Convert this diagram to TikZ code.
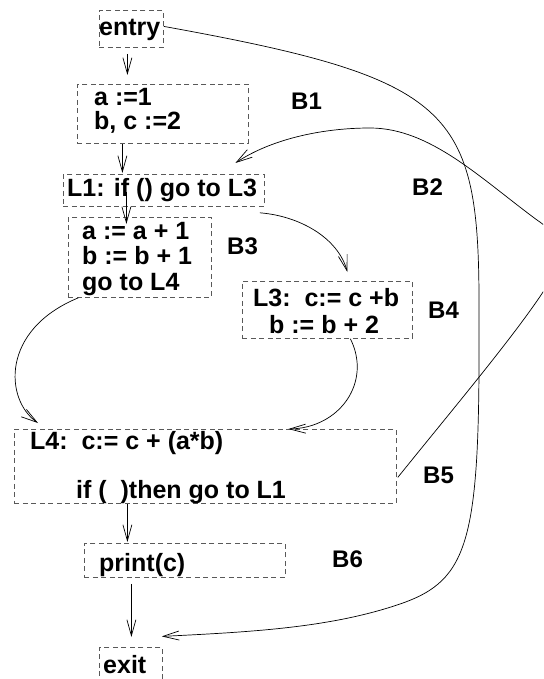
\documentclass[tikz,border=0pt]{standalone}
\usepackage{fontspec}
\setmainfont{Liberation Sans}
\usetikzlibrary{arrows.meta}
\tikzset{
  box/.style={draw=black!65, dash pattern=on 5pt off 3.5pt, line width=0.8pt, inner sep=0pt, anchor=north west},
  txt/.style={anchor=base west, inner sep=0pt, font=\fontsize{25}{25}\selectfont\bfseries},
  blab/.style={anchor=base west, inner sep=0pt, font=\fontsize{24}{24}\selectfont\bfseries},
  arr/.style={line width=0.7pt, -{Straight Barb[length=16pt,width=9pt]}}
}
\begin{document}
\begin{tikzpicture}[x=1pt,y=-1pt]
\useasboundingbox (0,0) rectangle (543,679);
\clip (0,0) rectangle (543,679);
% boxes
\node[box, minimum width=64pt, minimum height=37pt] (entry) at (99,10) {};
\node[box, minimum width=171pt, minimum height=59pt] (B1) at (77,84) {};
\node[box, minimum width=201pt, minimum height=32pt] (L1) at (63,174) {};
\node[box, minimum width=143pt, minimum height=80pt] (B3) at (68,217) {};
\node[box, minimum width=170pt, minimum height=57pt] (B4) at (242,281) {};
\node[box, minimum width=382pt, minimum height=74pt] (B5) at (14,429) {};
\node[box, minimum width=201pt, minimum height=34pt] (print) at (84,543) {};
\node[box, minimum width=63pt, minimum height=37pt] (exit) at (99,647) {};
% texts
\node[txt] (tentry) at (99,36) {entry};
\node[txt] (tb1a) at (94,106) {a :=1};
\node[txt] (tb1b) at (94,130) {b, c :=2};
\node[txt] (tl1) at (67,196) {L1: if () go to L3};
\node[txt] (tb3a) at (82,239) {a := a + 1};
\node[txt] (tb3b) at (82,264) {b := b + 1};
\node[txt] (tb3c) at (82,290) {go to L4};
\node[txt] (tb4a) at (253,306) {L3:\ \ c:= c +b};
\node[txt] (tb4b) at (269,333) {b := b + 2};
\node[txt] (tb5a) at (30,449) {L4:\ \ c:= c + (a*b)};
\node[txt] (tb5b) at (76,498) {if (\ \ )then go to L1};
\node[txt] (tprint) at (99,571) {print(c)};
\node[txt] (texit) at (103,673) {exit};
% block labels
\node[blab] (lB1) at (291,110) {B1};
\node[blab] (lB2) at (412,195) {B2};
\node[blab] (lB3) at (227,254) {B3};
\node[blab] (lB4) at (428,318) {B4};
\node[blab] (lB5) at (423,483) {B5};
\node[blab] (lB6) at (332,567) {B6};
% connectors
\draw[arr] ([xshift=-4pt,yshift=-6pt]entry.south) -- ([xshift=-35.5pt,yshift=9pt]B1.north);
\draw[arr] ([xshift=-40.5pt]B1.south) -- ([xshift=-41.5pt,yshift=1pt]L1.north);
\draw[arr] ([xshift=-37.5pt,yshift=15pt]L1.south) -- ([xshift=-13.5pt,yshift=-7pt]B3.north);
\draw[arr] ([xshift=-5pt,yshift=-6pt]L1.south east) .. controls (300,216) and (338,238) .. ([xshift=20pt,yshift=9pt]B4.north);
\draw[arr] ([xshift=-61.5pt]B3.south) .. controls (0,330) and (5,400) .. ([xshift=24pt,yshift=6pt]B5.north west);
\draw[arr] ([xshift=23pt]B4.south) .. controls (372,382) and (340,428) .. ([xshift=83pt]B5.north);
\draw[arr] ([xshift=1pt,yshift=-11pt]B5.east) .. controls (460,400) and (545,300) .. (560,262)
  .. controls (566,247) and (555,232) .. (537,220)
  .. controls (480,178) and (430,128) .. (370,128)
  .. controls (320,128) and (270,140) .. ([xshift=71.5pt,yshift=11pt]L1.north);
\draw[arr] ([xshift=-78pt]B5.south) -- ([xshift=-57.5pt,yshift=1pt]print.north);
\draw[arr] ([xshift=-53.5pt,yshift=-6pt]print.south) -- ([xshift=0.5pt,yshift=10pt]exit.north);
\draw[arr] ([yshift=2.5pt]entry.east) .. controls (460,80) and (480,110) .. (479,320)
  .. controls (480,540) and (470,580) .. (400,604)
  .. controls (330,628) and (250,632) .. ([xshift=-1pt,yshift=29.5pt]exit.east);
\end{tikzpicture}
\end{document}
